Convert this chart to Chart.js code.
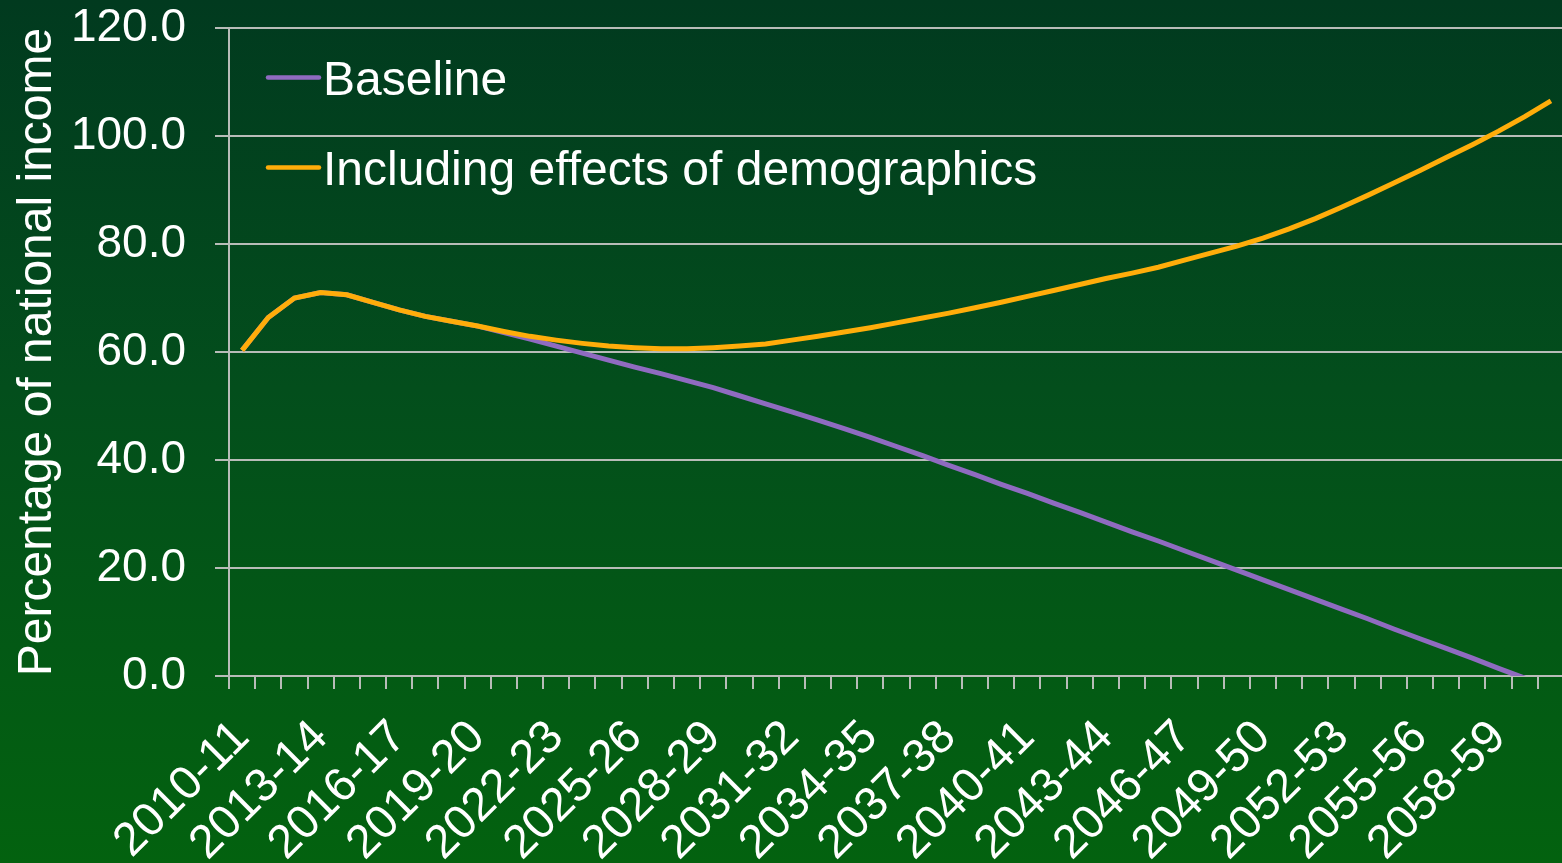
<!DOCTYPE html>
<html>
<head>
<meta charset="utf-8">
<script src="https://cdn.jsdelivr.net/npm/chart.js@4.4.1/dist/chart.umd.min.js"></script>
<style>
    html, body { margin: 0; padding: 0; width: 1562px; height: 863px; overflow: hidden; }
    body { background: linear-gradient(to bottom, #013a1f 0%, #034e1c 45%, #03620f 100%); }
    #wrap { position: absolute; left: 0; top: 0; width: 1564px; height: 863px; }
</style>
</head>
<body>
<div id="wrap"><canvas id="chart"></canvas></div>
<script>
const years = [
    '2010-11', '2011-12', '2012-13', '2013-14', '2014-15', '2015-16', '2016-17', '2017-18', '2018-19', '2019-20',
    '2020-21', '2021-22', '2022-23', '2023-24', '2024-25', '2025-26', '2026-27', '2027-28', '2028-29', '2029-30',
    '2030-31', '2031-32', '2032-33', '2033-34', '2034-35', '2035-36', '2036-37', '2037-38', '2038-39', '2039-40',
    '2040-41', '2041-42', '2042-43', '2043-44', '2044-45', '2045-46', '2046-47', '2047-48', '2048-49', '2049-50',
    '2050-51', '2051-52', '2052-53', '2053-54', '2054-55', '2055-56', '2056-57', '2057-58', '2058-59', '2059-60',
    '2060-61'
];

const baseline = [
    60.3, 66.4, 70.0, 71.0, 70.6, 69.2, 67.8, 66.6, 65.7, 64.8,
    63.6, 62.4, 61.1, 59.8, 58.5, 57.2, 56.0, 54.7, 53.4, 51.9,
    50.4, 48.9, 47.4, 45.8, 44.2, 42.5, 40.8, 39.0, 37.3, 35.5,
    33.8, 32.0, 30.3, 28.5, 26.7, 25.0, 23.2, 21.4, 19.6, 17.8,
    16.0, 14.2, 12.4, 10.6, 8.7, 6.9, 5.1, 3.3, 1.4, -0.4
];

const demographics = [
    60.3, 66.4, 70.0, 71.0, 70.6, 69.2, 67.8, 66.6, 65.7, 64.8,
    63.8, 62.9, 62.2, 61.6, 61.1, 60.8, 60.6, 60.6, 60.8, 61.1,
    61.5, 62.2, 62.9, 63.7, 64.5, 65.4, 66.3, 67.2, 68.2, 69.2,
    70.3, 71.4, 72.5, 73.6, 74.6, 75.7, 77.0, 78.3, 79.6, 81.1,
    82.8, 84.7, 86.8, 89.0, 91.3, 93.6, 96.0, 98.4, 100.9, 103.6,
    106.5
];

const yTicks = [0, 20, 40, 60, 80, 100, 120];

const FONT = '"Liberation Sans", Arial, sans-serif';
const GRID = '#b8bcb8';

// legend drawn inside the plot, top-left
const insideLegend = {
    id: 'insideLegend',
    afterDraw(chart) {
        const { ctx, chartArea } = chart;
        ctx.save();
        ctx.font = '48px ' + FONT;
        ctx.textBaseline = 'alphabetic';
        chart.data.datasets.forEach((ds, i) => {
            const y = chartArea.top + 49.5 + i * 90;
            const x = chartArea.left + 39;
            ctx.strokeStyle = ds.borderColor;
            ctx.lineWidth = 4.5;
            ctx.lineCap = 'round';
            ctx.beginPath();
            ctx.moveTo(x, y);
            ctx.lineTo(x + 51, y);
            ctx.stroke();
            ctx.fillStyle = '#ffffff';
            ctx.fillText(ds.label, x + 55, y + 17.2);
        });
        ctx.restore();
    }
};

new Chart(document.getElementById('chart'), {
    type: 'line',
    data: {
        labels: years,
        datasets: [
            {
                label: 'Baseline',
                data: baseline,
                borderColor: '#8f6bc0',
                borderWidth: 5,
                pointRadius: 0,
                tension: 0,
                order: 1,
                clip: { left: 10, top: 10, right: 10, bottom: 0 }
            },
            {
                label: 'Including effects of demographics',
                data: demographics,
                borderColor: '#ffad0a',
                borderWidth: 5,
                pointRadius: 0,
                tension: 0,
                order: 0,
                clip: { left: 10, top: 10, right: 10, bottom: 0 }
            }
        ]
    },
    options: {
        responsive: true,
        maintainAspectRatio: false,
        animation: false,
        layout: { padding: { left: 5, top: 28, right: 0, bottom: 0 } },
        plugins: {
            legend: { display: false },
            tooltip: { enabled: false }
        },
        scales: {
            x: {
                offset: true,
                afterFit: (axis) => {
                    axis.height = 187;
                    axis.paddingLeft = 0;
                    axis.paddingRight = 0;
                },
                grid: {
                    offset: true,
                    drawOnChartArea: false,
                    drawTicks: true,
                    tickLength: 13,
                    color: GRID,
                    lineWidth: 2
                },
                border: { color: GRID, width: 2 },
                ticks: {
                    autoSkip: false,
                    maxRotation: 45,
                    minRotation: 45,
                    padding: 21,
                    color: '#ffffff',
                    font: { family: FONT, size: 47 },
                    callback: (v, i) => (i % 3 === 0 ? years[i] : '')
                }
            },
            y: {
                min: 0,
                max: 120,
                afterFit: (axis) => {
                    axis.width = 224;
                    axis.paddingTop = 0;
                    axis.paddingBottom = 0;
                },
                afterBuildTicks: (axis) => {
                    axis.ticks = yTicks.map(v => ({ value: v }));
                },
                grid: {
                    color: GRID,
                    lineWidth: 2,
                    drawTicks: true,
                    tickLength: 14
                },
                border: { color: GRID, width: 2 },
                ticks: {
                    padding: 29,
                    color: '#ffffff',
                    font: { family: FONT, size: 46 },
                    callback: (v) => Number(v).toFixed(1)
                },
                title: {
                    display: true,
                    text: 'Percentage of national income',
                    color: '#ffffff',
                    font: { family: FONT, size: 48 },
                    padding: { top: 4, bottom: 4 }
                }
            }
        }
    },
    plugins: [insideLegend]
});
</script>
</body>
</html>
